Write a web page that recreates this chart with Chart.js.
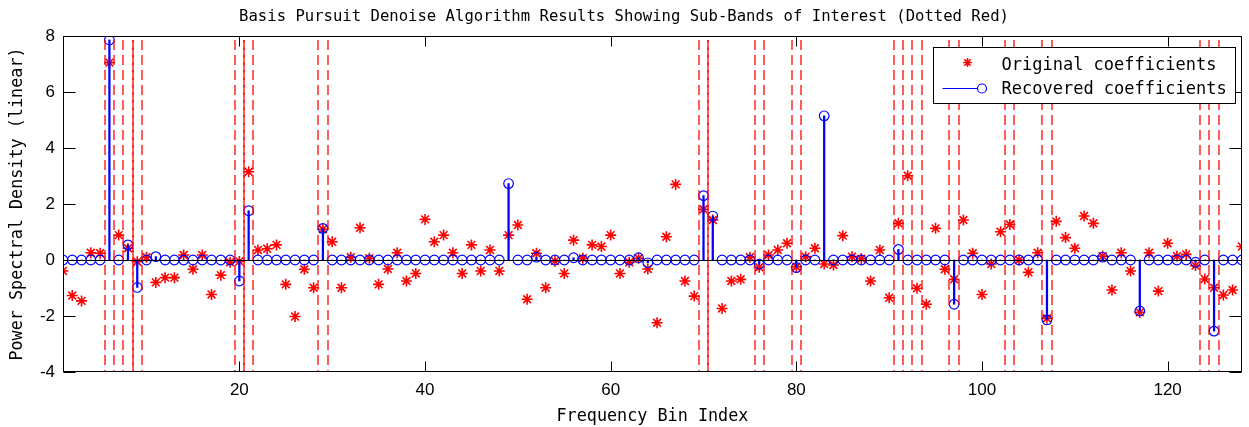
<!DOCTYPE html>
<html>
<head>
<meta charset="utf-8">
<title>Basis Pursuit Denoise</title>
<script src="https://cdn.jsdelivr.net/npm/chart.js@4.4.1/dist/chart.umd.min.js"></script>
<style>
  html, body { margin: 0; padding: 0; background: #fff; }
</style>
</head>
<body>
<canvas id="psdChart" width="1249" height="427"></canvas>
<script>
// frequency bins 1..128
const bins = [];
for (let i = 1; i <= 128; i++) bins.push(i);

// original (noisy) coefficients
const original = [
  -0.39, -1.27, -1.46, 0.26, 0.24, 7.05, 0.89, 0.42, -0.06, 0.10,
  -0.80, -0.63, -0.63, 0.18, -0.33, 0.18, -1.23, -0.54, -0.08, -0.05,
  3.15, 0.36, 0.40, 0.54, -0.87, -2.02, -0.33, -0.99, 1.10, 0.65,
  -0.99, 0.10, 1.15, 0.06, -0.87, -0.32, 0.26, -0.75, -0.48, 1.45,
  0.65, 0.89, 0.26, -0.48, 0.54, -0.39, 0.36, -0.39, 0.89, 1.25,
  -1.40, 0.24, -0.99, -0.04, -0.48, 0.71, 0.06, 0.54, 0.48, 0.89,
  -0.48, -0.08, 0.06, -0.32, -2.24, 0.83, 2.70, -0.75, -1.29, 1.81,
  1.43, -1.73, -0.75, -0.69, 0.10, -0.26, 0.18, 0.36, 0.60, -0.24,
  0.12, 0.42, -0.14, -0.18, 0.87, 0.12, 0.05, -0.75, 0.36, -1.35,
  1.31, 3.01, -1.01, -1.58, 1.13, -0.33, -0.69, 1.43, 0.24, -1.23,
  -0.14, 1.01, 1.27, 0.00, -0.44, 0.26, -2.08, 1.38, 0.80, 0.42,
  1.57, 1.31, 0.14, -1.07, 0.26, -0.39, -1.87, 0.26, -1.11, 0.60,
  0.14, 0.20, -0.20, -0.68, -0.99, -1.25, -1.07, 0.48
];

// recovered (sparse) coefficients
const recovered = [
  0, 0, 0, 0, 0, 7.86, 0, 0.54, -0.98, 0,
  0.12, 0, 0, 0, 0, 0, 0, 0, 0, -0.75,
  1.76, 0, 0, 0, 0, 0, 0, 0, 1.13, 0,
  0, 0, 0, 0, 0, 0, 0, 0, 0, 0,
  0, 0, 0, 0, 0, 0, 0, 0, 2.73, 0,
  0, 0.10, 0, 0, 0, 0.08, 0, 0, 0, 0,
  0, 0, 0.08, -0.10, 0, 0, 0, 0, 0, 2.30,
  1.57, 0, 0, 0, 0, -0.15, 0, 0, 0, -0.27,
  0, 0, 5.15, 0, 0, 0, 0, 0, 0, 0,
  0.38, 0, 0, 0, 0, 0, -1.58, 0, 0, 0,
  0, 0, 0, 0, 0, 0, -2.14, 0, 0, 0,
  0, 0, 0.10, 0, 0, 0, -1.82, 0, 0, 0,
  0, 0, -0.08, 0, -2.54, 0, 0, 0
];

// sub-band edges (red dashed); repeated edges are shared by two bands
const bandEdges = [5.5, 6.5, 7.5, 8.5, 8.5, 9.5, 19.5, 20.5, 20.5, 21.5,
  28.5, 29.5, 69.5, 70.5, 70.5, 75.5, 76.5, 79.5, 80.5,
  90.5, 91.5, 92.5, 93.5, 96.5, 97.5, 102.5, 103.5, 106.5, 107.5,
  123.5, 124.5, 125.5];

const xTicks = [20, 40, 60, 80, 100, 120];
const yTicks = [-4, -2, 0, 2, 4, 6, 8];
const seriesNames = ['Original coefficients', 'Recovered coefficients'];

const RED = '#ff0000';
const BLUE = '#0000ff';
const MONO = '"DejaVu Sans Mono", "Liberation Mono", monospace';

function drawStar(ctx, cx, cy, r) {
  const d = r * Math.SQRT1_2;
  ctx.beginPath();
  ctx.moveTo(cx - r, cy); ctx.lineTo(cx + r, cy);
  ctx.moveTo(cx, cy - r); ctx.lineTo(cx, cy + r);
  ctx.moveTo(cx - d, cy - d); ctx.lineTo(cx + d, cy + d);
  ctx.moveTo(cx - d, cy + d); ctx.lineTo(cx + d, cy - d);
  ctx.stroke();
}

// MATLAB-ish box, inward ticks, band lines, baseline and legend
const matlabAxes = {
  id: 'matlabAxes',
  afterDatasetsDraw(chart) {
    const {ctx, chartArea: a, scales: {x, y}} = chart;
    ctx.save();
    ctx.beginPath();
    ctx.rect(a.left, a.top, a.right - a.left, a.bottom - a.top);
    ctx.clip();

    ctx.strokeStyle = 'rgba(255,0,0,0.85)';
    ctx.lineWidth = 1.5;
    ctx.lineCap = 'butt';
    ctx.setLineDash([10, 5]);
    const seen = {};
    bandEdges.forEach(b => {
      const px = Math.round(x.getPixelForValue(b));
      ctx.lineDashOffset = seen[b] ? 7.5 : 0;
      seen[b] = true;
      ctx.beginPath();
      ctx.moveTo(px, a.top + 4);
      ctx.lineTo(px, a.bottom);
      ctx.stroke();
    });
    ctx.setLineDash([]);

    // stem baseline
    const y0 = Math.round(y.getPixelForValue(0)) + 0.5;
    ctx.strokeStyle = '#000';
    ctx.lineWidth = 1;
    ctx.beginPath();
    ctx.moveTo(a.left, y0);
    ctx.lineTo(a.right, y0);
    ctx.stroke();
    ctx.restore();
  },
  afterDraw(chart) {
    const {ctx, chartArea: a, scales: {x, y}} = chart;
    ctx.save();
    ctx.strokeStyle = '#000';
    ctx.lineWidth = 1;
    const L = Math.round(a.left) + 0.5, R = Math.round(a.right) - 0.5;
    const T = Math.round(a.top) + 0.5, B = Math.round(a.bottom) - 0.5;
    ctx.strokeRect(L, T, R - L, B - T);

    ctx.beginPath();
    xTicks.forEach(v => {
      const px = Math.round(x.getPixelForValue(v)) + 0.5;
      ctx.moveTo(px, B); ctx.lineTo(px, B - 10);
      ctx.moveTo(px, T); ctx.lineTo(px, T + 10);
    });
    yTicks.forEach(v => {
      const py = Math.round(y.getPixelForValue(v)) + 0.5;
      ctx.moveTo(L, py); ctx.lineTo(L + 12, py);
      ctx.moveTo(R, py); ctx.lineTo(R - 12, py);
    });
    ctx.stroke();

    // legend
    const lw = 302, lh = 56;
    const lx = Math.round(a.right) - 309 + 0.5;
    const ly = Math.round(a.top) + 11 + 0.5;
    ctx.fillStyle = '#fff';
    ctx.fillRect(lx, ly, lw, lh);
    ctx.strokeRect(lx, ly, lw, lh);

    ctx.strokeStyle = RED;
    ctx.lineWidth = 1.5;
    drawStar(ctx, lx + 34, ly + 15, 4.5);

    ctx.strokeStyle = BLUE;
    ctx.lineWidth = 1.2;
    ctx.beginPath();
    ctx.moveTo(lx + 9, ly + 41);
    ctx.lineTo(lx + 44, ly + 41);
    ctx.stroke();
    ctx.beginPath();
    ctx.arc(lx + 48.5, ly + 41, 4.5, 0, Math.PI * 2);
    ctx.stroke();

    ctx.fillStyle = '#000';
    ctx.font = '17px ' + MONO;
    ctx.textBaseline = 'middle';
    ctx.textAlign = 'left';
    ctx.fillText(seriesNames[0], lx + 68, ly + 18);
    ctx.fillText(seriesNames[1], lx + 68, ly + 42);
    ctx.restore();
  }
};

new Chart(document.getElementById('psdChart'), {
  type: 'scatter',
  data: {
    datasets: [
      {
        type: 'scatter',
        label: seriesNames[0],
        data: bins.map((b, i) => ({x: b, y: original[i]})),
        pointStyle: 'star',
        pointRadius: 5.5,
        borderColor: RED,
        backgroundColor: RED,
        borderWidth: 1.6,
        order: 3
      },
      {
        type: 'bar',
        label: 'stems',
        data: bins.map((b, i) => ({x: b, y: recovered[i]})),
        backgroundColor: BLUE,
        borderWidth: 0,
        barThickness: 1.6,
        order: 2
      },
      {
        type: 'scatter',
        label: seriesNames[1],
        data: bins.map((b, i) => ({x: b, y: recovered[i]})),
        pointStyle: 'circle',
        pointRadius: 4.8,
        borderColor: BLUE,
        backgroundColor: 'rgba(0,0,0,0)',
        borderWidth: 1.2,
        order: 1
      }
    ]
  },
  options: {
    responsive: false,
    animation: false,
    layout: { padding: { left: 0, right: 1, top: 0, bottom: 0 } },
    plugins: {
      legend: { display: false },
      tooltip: { enabled: false },
      title: {
        display: true,
        text: 'Basis Pursuit Denoise Algorithm Results Showing Sub-Bands of Interest (Dotted Red)',
        color: '#000',
        font: { family: MONO, size: 15.6, weight: 'normal', lineHeight: 1.2 },
        padding: { top: 8, bottom: 9.3 }
      }
    },
    scales: {
      x: {
        type: 'linear',
        min: 1,
        max: 128,
        offset: false,
        grid: { display: false, drawTicks: false, offset: false },
        border: { display: false },
        afterBuildTicks: s => { s.ticks = xTicks.map(v => ({value: v})); },
        afterFit: s => { s.height = 55; },
        ticks: {
          color: '#000',
          padding: 8,
          maxRotation: 0,
          font: { family: '"Liberation Sans", Arial, sans-serif', size: 17 }
        },
        title: {
          display: true,
          text: 'Frequency Bin Index',
          color: '#000',
          font: { family: MONO, size: 16.8, lineHeight: 1.2 },
          padding: { top: 0, bottom: 0 }
        }
      },
      y: {
        type: 'linear',
        min: -4,
        max: 8,
        grid: { display: false, drawTicks: false },
        border: { display: false },
        afterBuildTicks: s => { s.ticks = yTicks.map(v => ({value: v})); },
        afterFit: s => { s.width = 63; },
        ticks: {
          color: '#000',
          padding: 8,
          font: { family: '"Liberation Sans", Arial, sans-serif', size: 17 }
        },
        title: {
          display: true,
          text: 'Power Spectral Density (linear)',
          color: '#000',
          font: { family: MONO, size: 16.8, lineHeight: 1.2 },
          padding: { top: 8, bottom: 0 }
        }
      }
    }
  },
  plugins: [matlabAxes]
});
</script>
</body>
</html>
